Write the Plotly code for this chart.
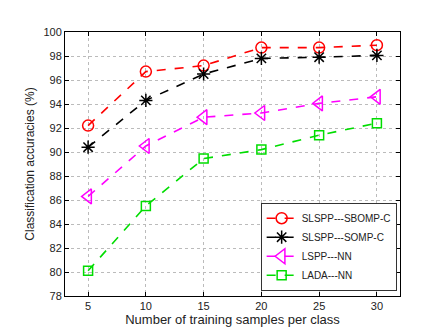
import plotly.graph_objects as go

x_vals = [5, 10, 15, 20, 25, 30]
sbomp = [92.2, 96.7, 97.2, 98.7, 98.7, 98.9]
somp = [90.4, 94.3, 96.5, 97.8, 97.9, 98.05]
lspp = [86.3, 90.5, 92.9, 93.25, 94.05, 94.6]
lada = [80.1, 85.5, 89.45, 90.2, 91.4, 92.4]
names = ["SLSPP---SBOMP-C", "SLSPP---SOMP-C", "LSPP---NN", "LADA---NN"]
x_ticks = [5, 10, 15, 20, 25, 30]
y_ticks = list(range(78, 101, 2))

series = [
    (sbomp, names[0], "red", "circle-open", 11),
    (somp, names[1], "black", "asterisk-open", 11),
    (lspp, names[2], "magenta", "triangle-left-open", 13),
    (lada, names[3], "#00dd00", "square-open", 9),
]

fig = go.Figure()
for ys, nm, col, sym, sz in series:
    fig.add_trace(go.Scatter(
        x=x_vals, y=ys, name=nm, mode="lines+markers",
        line=dict(color=col, width=1.6, dash="dash"),
        marker=dict(symbol=sym, size=sz, color=col, line=dict(color=col, width=1.5)),
    ))

axis_common = dict(
    showline=True, linecolor="black", linewidth=1, mirror="ticks",
    ticks="inside", ticklen=4, tickcolor="black",
    showgrid=True, gridcolor="#bbbbbb", griddash="dot", gridwidth=1,
    zeroline=False, tickfont=dict(size=11, color="#222"),
)
fig.update_xaxes(range=[3, 32], tickvals=x_ticks,
                 title=dict(text="Number of training samples per class", font=dict(size=13, color="#222"), standoff=2),
                 **axis_common)
fig.update_yaxes(range=[78, 100], tickvals=y_ticks,
                 title=dict(text="Classification accuracies (%)", font=dict(size=12, color="#222"), standoff=6),
                 **axis_common)
fig.update_layout(
    width=435, height=327,
    margin=dict(l=57, r=43, t=24, b=36),
    paper_bgcolor="white", plot_bgcolor="white",
    font=dict(family="Liberation Sans, Arial, sans-serif", color="#222"),
    legend=dict(x=0.99, y=0.02, xanchor="right", yanchor="bottom",
                bgcolor="white", bordercolor="#333", borderwidth=1,
                font=dict(size=10), tracegroupgap=0, itemwidth=30),
    showlegend=True,
)
fig.write_html("out.html")
